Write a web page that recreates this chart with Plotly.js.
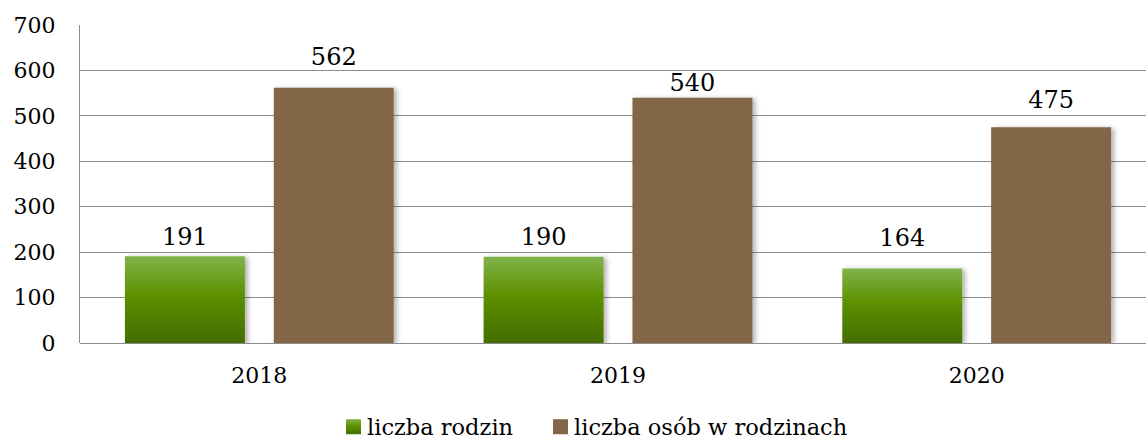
<!DOCTYPE html>
<html>
<head>
<meta charset="utf-8">
<script src="https://cdn.plot.ly/plotly-3.0.1.min.js"></script>
<style>html,body{margin:0;padding:0;background:#fff}#chart{width:1146px;height:441px}</style>
</head>
<body>
<div id="chart"></div>
<script>
const years = ['2018', '2019', '2020'];
const liczbaRodzin = [191, 190, 164];
const liczbaOsob = [562, 540, 475];
const seriesNames = ['liczba rodzin', 'liczba osób w rodzinach'];
const yTicks = [0, 100, 200, 300, 400, 500, 600, 700];

// style: gap (px) between each value label and its bar top, as placed in the original
const labelGaps = [[11, 11, 22], [22, 6, 19]];

const FONT = 'DejaVu Serif, serif';
const TICK_SIZE = 22;
const LABEL_SIZE = 24;
const LEG_SIZE = 22.5;

const traces = [
  {
    type: 'bar', x: years, y: liczbaRodzin, name: seriesNames[0],
    marker: {color: '#5a8c00', line: {width: 0}},
    text: liczbaRodzin.map(String), textposition: 'outside', cliponaxis: false,
    textfont: {family: FONT, size: LABEL_SIZE, color: '#000'}
  },
  {
    type: 'bar', x: years, y: liczbaOsob, name: seriesNames[1],
    marker: {color: '#836647', line: {width: 0}},
    text: liczbaOsob.map(String), textposition: 'outside', cliponaxis: false,
    textfont: {family: FONT, size: LABEL_SIZE, color: '#000'}
  }
];

const layout = {
  width: 1146, height: 441,
  margin: {l: 80, r: 0, t: 25, b: 98},
  paper_bgcolor: '#fff', plot_bgcolor: '#fff',
  font: {family: FONT, size: TICK_SIZE, color: '#000'},
  barmode: 'group', bargap: 0.17, bargroupgap: 0.194,
  showlegend: true,
  legend: {
    orientation: 'h', xref: 'container', yref: 'container',
    x: 0.28, xanchor: 'left', y: 0.0, yanchor: 'bottom',
    font: {family: FONT, size: LEG_SIZE, color: '#000'},
    itemwidth: 30, tracegroupgap: 0, traceorder: 'normal',
    bgcolor: 'rgba(0,0,0,0)'
  },
  xaxis: {
    type: 'category', range: [-0.5, 2.472],
    showgrid: false, zeroline: false, showline: false,
    ticks: '', ticklabelstandoff: 17,
    tickfont: {family: FONT, size: TICK_SIZE, color: '#000'}
  },
  yaxis: {
    range: [0, 700], tickvals: yTicks, ticktext: yTicks.map(String),
    showgrid: true, gridcolor: '#8c8c8c', gridwidth: 1,
    zeroline: true, zerolinecolor: '#8c8c8c', zerolinewidth: 1,
    showline: true, linecolor: '#8c8c8c', linewidth: 1,
    ticks: '', ticklabelstandoff: 19,
    tickfont: {family: FONT, size: TICK_SIZE, color: '#000'}
  }
};

Plotly.newPlot('chart', traces, layout, {staticPlot: true, displayModeBar: false}).then(function (gd) {
  const ns = 'http://www.w3.org/2000/svg';
  const svg = gd.querySelector('svg.main-svg');
  let defs = svg.querySelector('defs');
  if (!defs) { defs = document.createElementNS(ns, 'defs'); svg.insertBefore(defs, svg.firstChild); }

  // green vertical gradient
  const grad = document.createElementNS(ns, 'linearGradient');
  grad.setAttribute('id', 'greenGrad');
  grad.setAttribute('x1', '0'); grad.setAttribute('y1', '0');
  grad.setAttribute('x2', '0'); grad.setAttribute('y2', '1');
  [['0', '#80b34b'], ['0.45', '#5e9000'], ['1', '#446d00']].forEach(function (s) {
    const st = document.createElementNS(ns, 'stop');
    st.setAttribute('offset', s[0]); st.setAttribute('stop-color', s[1]);
    grad.appendChild(st);
  });
  defs.appendChild(grad);

  // soft shadow
  const filt = document.createElementNS(ns, 'filter');
  filt.setAttribute('id', 'barShadow');
  filt.setAttribute('x', '-10%'); filt.setAttribute('y', '-10%');
  filt.setAttribute('width', '130%'); filt.setAttribute('height', '120%');
  const ds = document.createElementNS(ns, 'feDropShadow');
  ds.setAttribute('dx', '3'); ds.setAttribute('dy', '1');
  ds.setAttribute('stdDeviation', '2.5');
  ds.setAttribute('flood-color', '#000'); ds.setAttribute('flood-opacity', '0.3');
  filt.appendChild(ds);
  defs.appendChild(filt);

  const bars = gd.querySelectorAll('.barlayer .trace.bars');
  bars.forEach(function (tr, i) {
    tr.querySelectorAll('.point').forEach(function (pt, j) {
      const p = pt.querySelector('path');
      if (p) {
        if (i === 0) p.style.fill = 'url(#greenGrad)';
        p.style.filter = 'url(#barShadow)';
      }
      const t = pt.querySelector('text');
      if (p && t) {
        const pr = p.getBoundingClientRect();
        const tr2 = t.getBoundingClientRect();
        const base = tr2.bottom - 0.236 * LABEL_SIZE;
        const want = pr.top - labelGaps[i][j];
        const dy = want - base;
        t.setAttribute('transform', 'translate(0,' + dy + ') ' + (t.getAttribute('transform') || ''));
      }
    });
  });

  // legend swatches: larger squares close to the text
  const leg = gd.querySelector('.legend');
  const sb = leg.querySelector('.scrollbox');
  if (sb) sb.removeAttribute('clip-path');
  const legItems = leg.querySelectorAll('.traces');
  legItems.forEach(function (it, i) {
    it.querySelectorAll('.legendpoints path').forEach(function (p) {
      p.setAttribute('d', 'M-1,-7H14V8H-1Z');
      if (i === 0) p.style.fill = 'url(#greenGrad)';
    });
  });

  // place legend at the bottom, keeping the whole text box inside the picture
  const t0 = leg.querySelector('.legendtext');
  const r = t0.getBoundingClientRect();
  const dx = 367 - r.left;
  const dy = 440 - r.bottom;
  const m = /translate\(\s*([-\d.]+)[ ,]+([-\d.]+)\s*\)/.exec(leg.getAttribute('transform') || '');
  const tx = m ? parseFloat(m[1]) : 0, ty = m ? parseFloat(m[2]) : 0;
  leg.setAttribute('transform', 'translate(' + (tx + dx) + ',' + (ty + dy) + ')');

  // second legend entry: text starts where the original has it
  if (legItems[1]) {
    const t1 = legItems[1].querySelector('.legendtext');
    const r1 = t1.getBoundingClientRect();
    const ddx = 574 - r1.left;
    const m1 = /translate\(\s*([-\d.]+)[ ,]+([-\d.]+)\s*\)/.exec(legItems[1].getAttribute('transform') || '');
    const ax = m1 ? parseFloat(m1[1]) : 0, ay = m1 ? parseFloat(m1[2]) : 0;
    legItems[1].setAttribute('transform', 'translate(' + (ax + ddx) + ',' + ay + ')');
  }
});
</script>
</body>
</html>
